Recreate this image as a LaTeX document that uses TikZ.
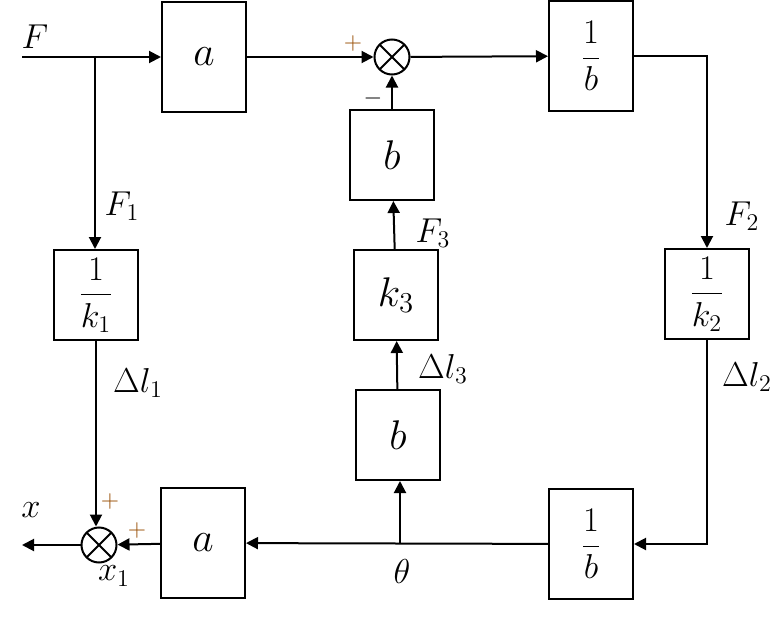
\documentclass[tikz,border=0pt]{standalone}
\usepackage{amsmath}
\usetikzlibrary{arrows.meta,positioning,calc}
\definecolor{sgncol}{RGB}{150,75,0}
\begin{document}
\begin{tikzpicture}[x=0.5pt, y=-0.5pt,
    blk/.style={draw, line width=1pt, minimum width=42pt, minimum height=45pt, inner sep=0pt, font=\fontsize{22}{26}\selectfont},
    tallblk/.style={blk, minimum height=55pt},
    fracblk/.style={font=\fontsize{17.5}{21}\selectfont},
    sumnode/.style={draw, circle, line width=1pt, minimum size=17.5pt, inner sep=0pt,
        path picture={\draw[line width=0.9pt] (path picture bounding box.north west) -- (path picture bounding box.south east)
                      (path picture bounding box.north east) -- (path picture bounding box.south west);}},
    arr/.style={-{Triangle[length=6pt, width=6pt]}, line width=1pt},
    lbl/.style={font=\fontsize{17.5}{21}\selectfont, inner sep=0pt},
    sgn/.style={font=\fontsize{13}{15}\selectfont, inner sep=0pt, text=sgncol}
]
\useasboundingbox (0,0) rectangle (778,627);

% blocks
\node[tallblk] (aT) at (204,57) {$a$};
\node[sumnode] (sT) at (392,57) {};
\node[tallblk, fracblk] (ibT) at (591,56) {$\dfrac{1}{b}$};
\node[blk] (bM) at (392,155) {$b$};
\node[blk] (k3) at (396,295) {$k_3$};
\node[blk] (bL) at (398,435) {$b$};
\node[blk, fracblk] (ik1) at (96,295) {$\dfrac{1}{k_1}$};
\node[blk, fracblk] (ik2) at (707,294) {$\dfrac{1}{k_2}$};
\node[tallblk] (aB) at (203,543) {$a$};
\node[tallblk, fracblk] (ibB) at (591,544) {$\dfrac{1}{b}$};
\node[sumnode] (sB) at (99,545) {};

\coordinate (in) at (22,57);
\coordinate (br) at (95,57);
\coordinate (th) at (400,544);
\coordinate (out) at (22,545);

% connectors
\draw[arr] (in) -- (aT);
\draw[arr] (br) -- (br |- ik1.north);
\draw[arr] (aT) -- (sT);
\draw[arr] (sT) -- (ibT);
\draw[arr] (ibT) -| (ik2);
\draw[arr] (ik2) |- (ibB);
\draw[arr] (ibB) -- (aB);
\draw[arr] (th) -- (th |- bL.south);
\draw[arr] (bL) -- (k3);
\draw[arr] (k3) -- (bM);
\draw[arr] (bM) -- (sT);
\draw[arr] (aB) -- (sB);
\draw[arr] (ik1) -- (ik1 |- sB.north);
\draw[arr] (sB) -- (out);

% labels
\node[lbl] at (35,37) {$F$};
\node[lbl] at (122,206) {$F_1$};
\node[lbl] at (742,216) {$F_2$};
\node[lbl] at (433,233) {$F_3$};
\node[lbl] at (138,383) {$\Delta l_1$};
\node[lbl] at (747,377) {$\Delta l_2$};
\node[lbl] at (443,369) {$\Delta l_3$};
\node[lbl] at (402,571) {$\theta$};
\node[lbl] at (31,510) {$x$};
\node[lbl] at (114,576) {$x_1$};
\node[sgn] at (353,43) {$+$};
\node[sgn, text=black] at (373,98) {$-$};
\node[sgn] at (110,501) {$+$};
\node[sgn] at (137,530) {$+$};
\end{tikzpicture}
\end{document}
